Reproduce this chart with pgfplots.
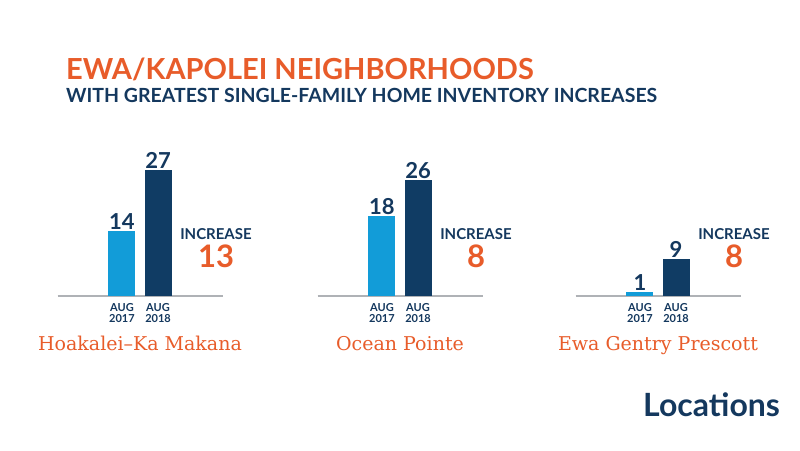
\documentclass[border=0pt]{standalone}
\usepackage{pgfplots}
\pgfplotsset{compat=1.18}
\usepackage{fontspec}
\setmainfont{Lato}
\newfontfamily\slab{DejaVu Serif}
\definecolor{orng}{RGB}{232,92,42}
\definecolor{navy}{RGB}{20,56,94}
\definecolor{darkbar}{RGB}{16,60,100}
\definecolor{lightbar}{RGB}{18,156,216}
\definecolor{linegray}{RGB}{175,178,182}
\pgfplotsset{panel/.style={
  scale only axis, width=165pt, height=150pt, anchor=south west,
  xmin=-1.79, xmax=2.79, ymin=0,
  axis x line*=bottom, axis y line=none,
  x axis line style={draw=linegray, line width=1.5pt},
  xtick={0,1}, xticklabels={{AUG\\2017},{AUG\\2018}},
  major tick length=0pt,
  xticklabel style={align=center, font=\fontsize{11}{11}\selectfont\bfseries, text=navy, inner sep=2pt, yshift=-5.5pt},
  ybar, bar width=27pt, bar shift=0pt, clip=false,
  nodes near coords,
  /pgf/number format/assume math mode=true,
  every node near coord/.style={font=\fontsize{22}{22}\selectfont\bfseries, text=navy, inner sep=1pt},
}}
\begin{document}
\begin{tikzpicture}
\path[fill=white] (0pt,0pt) rectangle (800pt,450pt);
\node[anchor=base west, inner sep=0, text=orng, font=\fontsize{29}{29}\selectfont\bfseries] at (66pt,370pt) {EWA/KAPOLEI NEIGHBORHOODS};
\node[anchor=base west, inner sep=0, text=navy, font=\fontsize{19.5}{19.5}\selectfont\bfseries] at (66pt,347pt) {WITH GREATEST SINGLE-FAMILY HOME INVENTORY INCREASES};
% panel 1
\begin{axis}[panel, at={(57.5pt,154pt)}, ymax=32.1]
\addplot[fill=lightbar, draw=none] coordinates {(0,14)};
\addplot[fill=darkbar, draw=none] coordinates {(1,27)};
\end{axis}
% panel 2
\begin{axis}[panel, at={(317.5pt,154pt)}, ymax=33.6]
\addplot[fill=lightbar, draw=none] coordinates {(0,18)};
\addplot[fill=darkbar, draw=none] coordinates {(1,26)};
\end{axis}
% panel 3
\begin{axis}[panel, at={(575.5pt,154pt)}, ymax=36.5]
\addplot[fill=lightbar, draw=none] coordinates {(0,1)};
\addplot[fill=darkbar, draw=none] coordinates {(1,9)};
\end{axis}
\foreach \c/\n/\name in {140/13/{Hoakalei–Ka Makana},400/8/{Ocean Pointe},658/8/{Ewa Gentry Prescott}}{
  \node[anchor=base, inner sep=0, text=navy, font=\fontsize{15}{15}\selectfont\bfseries] at ({\c*1pt+76pt},210pt) {INCREASE};
  \node[anchor=base, inner sep=0, text=orng, font=\fontsize{31}{31}\selectfont\bfseries] at ({\c*1pt+76pt},182pt) {\n};
  \node[anchor=base, inner sep=0, text=orng, font=\fontsize{19}{19}\selectfont\slab] at ({\c*1pt},100pt) {\name};
}
\node[anchor=base west, inner sep=0, text=navy, font=\fontsize{32}{32}\selectfont\bfseries] at (643pt,34pt) {Locations};
\end{tikzpicture}
\end{document}
